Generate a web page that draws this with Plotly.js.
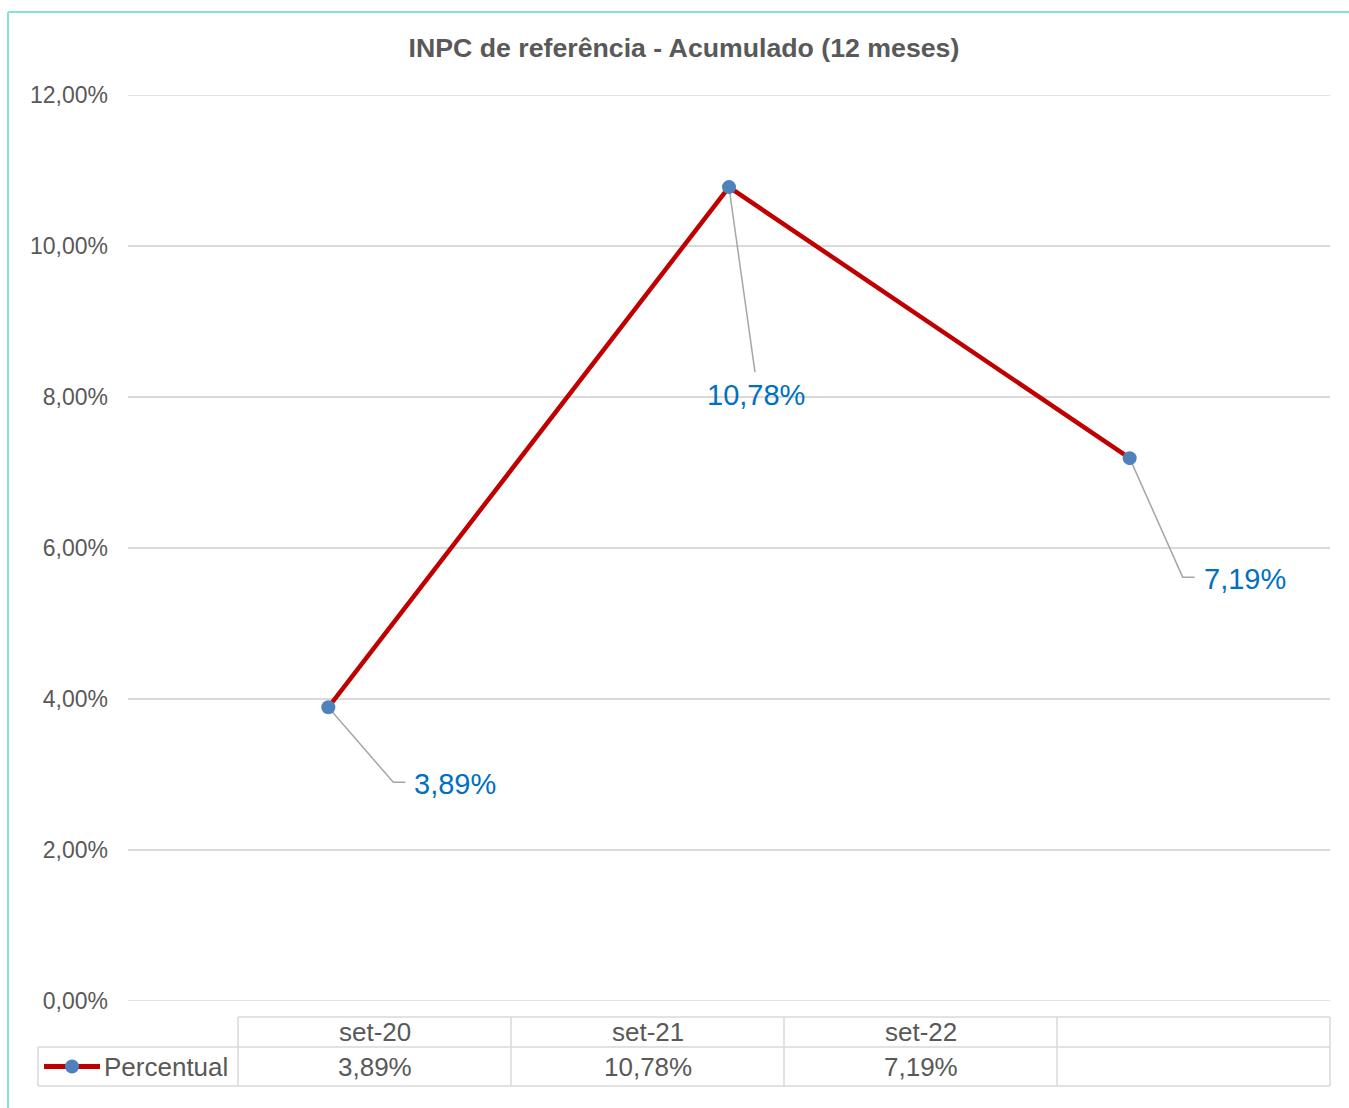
<!DOCTYPE html>
<html>
<head>
<meta charset="utf-8">
<script src="https://cdn.plot.ly/plotly-3.0.1.min.js"></script>
<style>html,body{margin:0;padding:0;background:#fff;}#chart{width:1349px;height:1108px;}</style>
</head>
<body>
<div id="chart"></div>
<script>
// ---- data ----
const categories = ['set-20', 'set-21', 'set-22'];
const percentual = [0.0389, 0.1078, 0.0719];
const seriesName = 'Percentual';
const chartTitle = 'INPC de referência - Acumulado (12 meses)';
const yTicks = [0, 0.02, 0.04, 0.06, 0.08, 0.10, 0.12];

const fmtPct = v => (v * 100).toFixed(2).replace('.', ',') + '%';

// ---- styling / layout helpers ----
const FONT = 'Liberation Sans, Arial, sans-serif';
const GRAY = '#595959';
const GRID = '#d9d9d9';
const plotL = 128, plotR = 1330, plotT = 95, plotB = 1001;
const W = 1349, H = 1108;
const px2x = p => (p - plotL) / (plotR - plotL);
const px2y = p => (plotB - p) / (plotB - plotT);

// label offsets (pixels) relative to each data point
const labelShift = [[127, -77], [27, -208], [115, -121]];
// leader paths: pixel offsets from the data point (y positive = up)
const leaderPaths = [
  'M0,0 L65,-75 L77,-75',
  'M0,0 L26,-185',
  'M0,0 L53,-119 L65,-119'
];

const shapes = [];
const annotations = [];

// edge gridlines (0% and 12%), which Plotly omits at the plot border
[yTicks[0], yTicks[yTicks.length - 1]].forEach(v => {
  shapes.push({type: 'line', layer: 'below', xref: 'paper', yref: 'y',
    x0: 0, x1: 1, y0: v, y1: v, line: {color: GRID, width: 1.5}});
});

// leader lines + data labels
categories.forEach((c, i) => {
  shapes.push({
    type: 'path', layer: 'between',
    xref: 'x', yref: 'y', xsizemode: 'pixel', ysizemode: 'pixel',
    xanchor: i, yanchor: percentual[i],
    path: leaderPaths[i],
    line: {color: '#a6a6a6', width: 1.5}
  });
  annotations.push({
    xref: 'x', yref: 'y', x: i, y: percentual[i],
    xshift: labelShift[i][0], yshift: labelShift[i][1],
    text: fmtPct(percentual[i]), showarrow: false,
    font: {family: FONT, size: 29, color: '#0070c0'}
  });
});

// data table
const colEdges = [238, 511, 784, 1057, 1330];
const rowEdges = [1017, 1047, 1086];
const legendLeft = 38;
const tline = {color: GRID, width: 1.5};
function pline(x0, y0, x1, y1, line) {
  shapes.push({type: 'line', xref: 'paper', yref: 'paper',
    x0: px2x(x0), y0: px2y(y0), x1: px2x(x1), y1: px2y(y1), line: line});
}
pline(colEdges[0], rowEdges[0], colEdges[4], rowEdges[0], tline);
pline(legendLeft, rowEdges[1], colEdges[4], rowEdges[1], tline);
pline(legendLeft, rowEdges[2], colEdges[4], rowEdges[2], tline);
colEdges.forEach(x => pline(x, rowEdges[0], x, rowEdges[2], tline));
pline(legendLeft, rowEdges[1], legendLeft, rowEdges[2], tline);

categories.forEach((c, i) => {
  const cx = (colEdges[i] + colEdges[i + 1]) / 2;
  annotations.push({xref: 'paper', yref: 'paper', x: px2x(cx), y: px2y((rowEdges[0] + rowEdges[1]) / 2),
    text: c, showarrow: false, xanchor: 'center', yanchor: 'middle',
    font: {family: FONT, size: 26, color: GRAY}});
  annotations.push({xref: 'paper', yref: 'paper', x: px2x(cx), y: px2y((rowEdges[1] + rowEdges[2]) / 2),
    text: fmtPct(percentual[i]), showarrow: false, xanchor: 'center', yanchor: 'middle',
    font: {family: FONT, size: 26, color: GRAY}});
});
// legend key inside table
const keyY = (rowEdges[1] + rowEdges[2]) / 2;
pline(44, keyY, 100, keyY, {color: '#c00000', width: 5});
shapes.push({type: 'circle', xref: 'paper', yref: 'paper',
  x0: px2x(65), x1: px2x(79), y0: px2y(keyY - 7), y1: px2y(keyY + 7),
  fillcolor: '#4f81bd', line: {width: 0}});
annotations.push({xref: 'paper', yref: 'paper', x: px2x(102), y: px2y(keyY),
  text: seriesName, showarrow: false, xanchor: 'left', yanchor: 'middle',
  font: {family: FONT, size: 26, color: GRAY}});

// chart border (top & left)
const BORDER = {color: '#80e6cf', width: 2};
pline(8, 12, W, 12, BORDER);
pline(8, 12, 8, H, BORDER);

const trace = {
  type: 'scatter', mode: 'lines+markers',
  x: categories.map((c, i) => i), y: percentual, name: seriesName,
  line: {color: '#c00000', width: 4.5},
  marker: {color: '#4f81bd', size: 14},
  hoverinfo: 'skip', cliponaxis: false
};

const layout = {
  width: W, height: H,
  paper_bgcolor: '#ffffff', plot_bgcolor: '#ffffff',
  margin: {l: plotL, r: W - plotR, t: plotT, b: H - plotB, pad: 0},
  showlegend: false,
  separators: ',.',
  title: {text: '<b>' + chartTitle + '</b>', x: 0.507, xanchor: 'center', y: 1 - 48 / H, yanchor: 'middle',
    font: {family: FONT, size: 26.7, color: GRAY}},
  xaxis: {range: [-0.5, 2.5], showgrid: false, zeroline: false, showticklabels: false,
    showline: false, ticks: '', fixedrange: true},
  yaxis: {range: [0, 0.12], tickvals: yTicks, ticktext: yTicks.map(fmtPct),
    showgrid: true, gridcolor: GRID, gridwidth: 1.5, zeroline: false, showline: false,
    ticks: '', ticklabelstandoff: 19,
    tickfont: {family: FONT, size: 23, color: GRAY}, fixedrange: true},
  shapes: shapes,
  annotations: annotations
};

Plotly.newPlot('chart', [trace], layout, {displayModeBar: false, staticPlot: true});
</script>
</body>
</html>
